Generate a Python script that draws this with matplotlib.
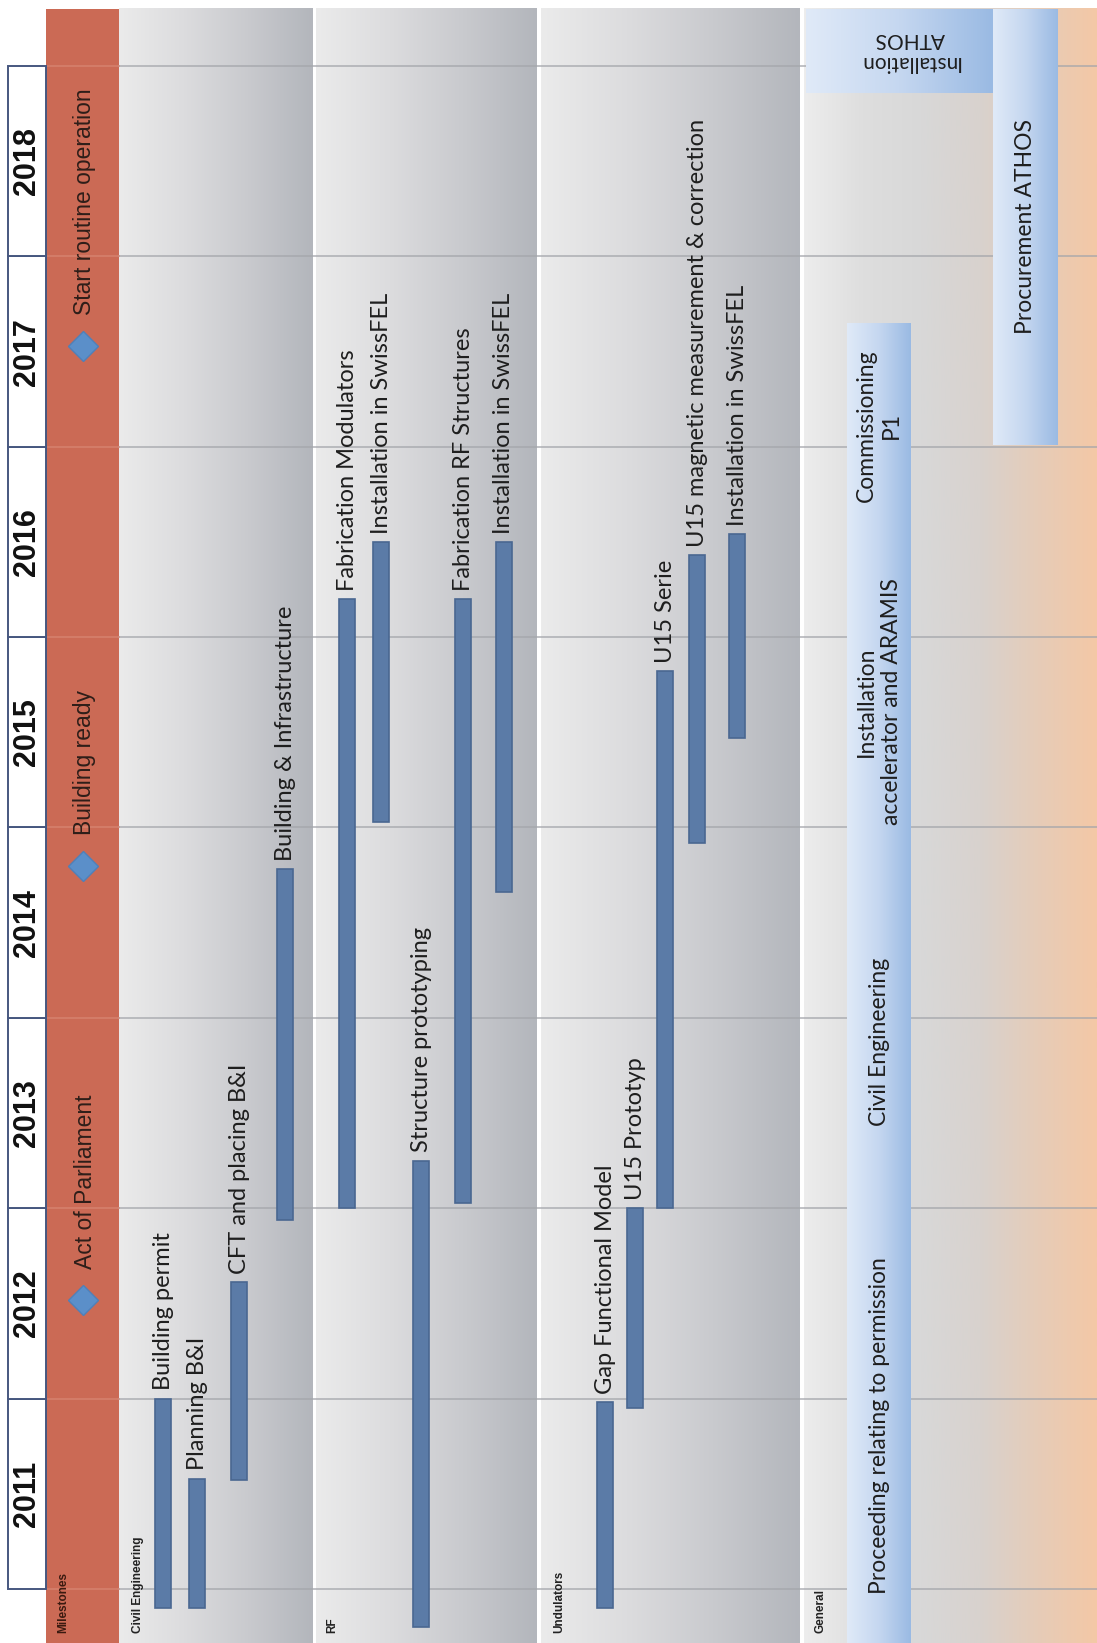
"""
SwissFEL project schedule 2011-2018, drawn as a vertical Gantt chart.
"""

import numpy as np
import matplotlib.pyplot as plt
from matplotlib.colors import LinearSegmentedColormap
from matplotlib.patches import Rectangle

# Schedule data (dates in fractional years)
years = list(range(2011, 2019))

milestone_labels = ['Act of Parliament', 'Building ready', 'Start routine operation']
milestone_dates = [2012.52, 2014.80, 2017.53]

civil_tasks = ['Building permit', 'Planning B&I', 'CFT and placing B&I',
               'Building & Infrastructure']
civil_start = [2010.90, 2010.90, 2011.57, 2012.94]
civil_end = [2012.00, 2011.58, 2012.61, 2014.78]

rf_tasks = ['Fabrication Modulators', 'Installation in SwissFEL',
            'Structure prototyping', 'Fabrication RF Structures',
            'Installation in SwissFEL']
rf_start = [2013.00, 2015.03, 2010.80, 2013.03, 2014.66]
rf_end = [2016.20, 2016.50, 2013.25, 2016.20, 2016.50]

und_tasks = ['Gap Functional Model', 'U15 Prototyp', 'U15 Serie',
             'U15 magnetic measurement & correction', 'Installation in SwissFEL']
und_start = [2010.90, 2011.95, 2013.00, 2014.92, 2015.47]
und_end = [2011.98, 2013.00, 2015.82, 2016.43, 2016.54]

general_phases = ['Proceeding relating to permission', 'Civil Engineering',
                  'Installation\naccelerator and ARAMIS', 'Commissioning\nP1']
general_start = [2010.50, 2013.00, 2014.75, 2016.57]
general_end = [2013.00, 2014.75, 2016.57, 2017.65]

athos_phases = ['Installation\nATHOS', 'Procurement ATHOS']
athos_start = [2018.86, 2017.01]

# Layout (figure pixels across, years up)
W, H = 1097, 1643
Y_LO, Y_HI = 2010.716, 2019.347
CHART_TOP = 2019.30
BAR_W = 16
civil_x = [163, 197, 239, 285]
rf_x = [347, 381, 421, 463, 504]
und_x = [605, 635, 665, 697, 737]

CALIBRI = ['Lato', 'DejaVu Sans']
ARIAL = ['Liberation Sans', 'DejaVu Sans']

fig = plt.figure(figsize=(W / 100, H / 100), dpi=100)
ax = fig.add_axes([0, 0, 1, 1])


def hgrad(x0, x1, y0, y1, colors, z):
    cmap = LinearSegmentedColormap.from_list('g', colors)
    grad = np.linspace(0, 1, 256)[None, :]
    ax.imshow(grad, extent=[x0, x1, y0, y1], cmap=cmap, aspect='auto',
              zorder=z, interpolation='bilinear')


# section backgrounds
gray_sec = ['#ebebeb', '#dcdcde', '#c9cace', '#b3b6bc']
hgrad(119, 313, Y_LO, CHART_TOP, gray_sec, 1)
hgrad(316, 537, Y_LO, CHART_TOP, gray_sec, 1)
hgrad(541, 800, Y_LO, CHART_TOP, gray_sec, 1)
hgrad(804, W, Y_LO, CHART_TOP,
      ['#ededed', '#dedede', '#d8d8d8', '#d8d2ce', '#e6ccb8', '#f4c8a6'], 1)

# milestones band
ax.add_patch(Rectangle((46, Y_LO), 73, CHART_TOP - Y_LO, facecolor='#cb6a55',
                       edgecolor='none', zorder=1))

# year gridlines
for y in years + [2019]:
    ax.plot([119, W], [y, y], color='#a4a6ab', lw=1.3, alpha=0.75, zorder=2)
    ax.plot([46, 119], [y, y], color='#d88672', lw=1.2, alpha=0.8, zorder=2)

# year header
for y in years:
    ax.add_patch(Rectangle((8, y), 38, 1, facecolor='white',
                           edgecolor='#46577f', lw=1.4, zorder=3))
    ax.text(27, y + 0.5, str(y), rotation=90, ha='center', va='center',
            fontsize=22, fontweight='bold', family=ARIAL, color='#111111',
            zorder=4)

# milestones
ax.plot([83] * len(milestone_dates), milestone_dates, 'D', ms=15,
        color='#5b8fc9', mec='#4f80b8', mew=1, zorder=5)
for lab, d in zip(milestone_labels, milestone_dates):
    ax.annotate(lab, (85, d), xytext=(0, 22), textcoords='offset points',
                rotation=90, ha='center', va='bottom', fontsize=16.5,
                family=ARIAL, color='#2e1e19', zorder=5)


def task_bars(xs, starts, ends, labels):
    for x, s, e, lab in zip(xs, starts, ends, labels):
        ax.add_patch(Rectangle((x - BAR_W / 2, s), BAR_W, e - s,
                               facecolor='#5b7ba7', edgecolor='#4a6791',
                               lw=1.2, zorder=5))
        ax.annotate(lab, (x, e), xytext=(0, 6), textcoords='offset points',
                    rotation=90, ha='center', va='bottom', fontsize=17,
                    family=CALIBRI, color='#1e1e1e', zorder=6)


task_bars(civil_x, civil_start, civil_end, civil_tasks)
task_bars(rf_x, rf_start, rf_end, rf_tasks)
task_bars(und_x, und_start, und_end, und_tasks)

# general phases
blue_bar = ['#e0eaf8', '#c5d7f0', '#9abae3']
for s, e, lab in zip(general_start, general_end, general_phases):
    hgrad(847, 911, s, e, blue_bar, 4)
    ax.text(879, (max(s, Y_LO) + e) / 2, lab, rotation=90, ha='center',
            va='center', multialignment='center', fontsize=16.5,
            family=CALIBRI, color='#1e1e1e', zorder=6)

hgrad(806, 993, athos_start[0], CHART_TOP, blue_bar, 4)
ax.text(910, (athos_start[0] + CHART_TOP) / 2, athos_phases[0], rotation=180,
        ha='center', va='center', multialignment='center', fontsize=15,
        family=CALIBRI, color='#1e1e1e', zorder=6)
hgrad(993, 1058, athos_start[1], CHART_TOP, blue_bar, 4)
ax.text(1026, (athos_start[1] + CHART_TOP) / 2, athos_phases[1],
        rotation=90, ha='center', va='center', fontsize=16.5,
        family=CALIBRI, color='#1e1e1e', zorder=6)

# section titles
for x, name in [(63, 'Milestones'), (138, 'Civil Engineering'), (332, 'RF'),
                (559, 'Undulators'), (820, 'General')]:
    ax.text(x, 2010.77, name, rotation=90, ha='center', va='bottom',
            fontsize=8.5, fontweight='bold', family=ARIAL,
            color='#3a1a10' if name == 'Milestones' else '#222222', zorder=6)

ax.set_xlim(0, W)
ax.set_ylim(Y_LO, Y_HI)
ax.axis('off')

fig.savefig('out.png', dpi=100, facecolor='white')
